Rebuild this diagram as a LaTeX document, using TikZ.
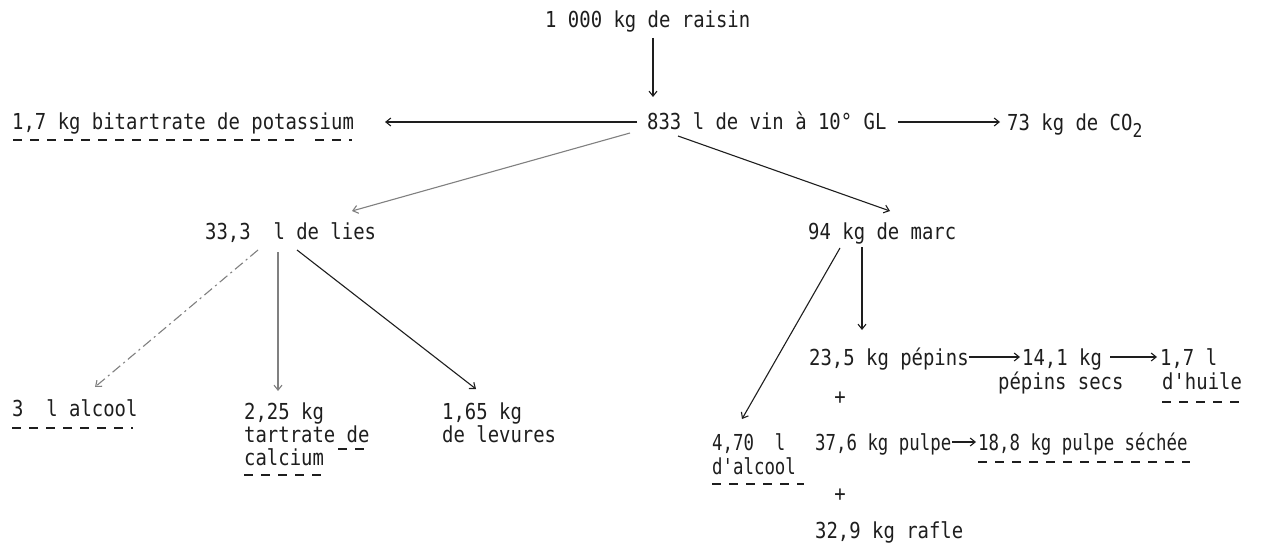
\documentclass[tikz,border=0pt]{standalone}
\usepackage{fontspec}
\setmonofont[FakeStretch=0.86]{DejaVu Sans Mono}
\usetikzlibrary{arrows.meta,calc}
\definecolor{ink}{HTML}{1E1E1E}
\definecolor{faint}{HTML}{808080}
\tikzset{
  lbl/.style={anchor=base west, inner sep=0pt, text=ink, font=\ttfamily\fontsize{22}{26}\selectfont},
  nlbl/.style={lbl, font=\ttfamily\fontsize{22}{26}\selectfont\addfontfeature{FakeStretch=0.79}},
  plus/.style={anchor=center, inner sep=0pt, text=ink, font=\ttfamily\fontsize{22}{26}\selectfont},
  arr/.style={draw=ink, line width=1.1pt, -{Straight Barb[length=5pt,width=8pt]}},
  garr/.style={arr, draw=faint},
  farr/.style={arr, draw=faint, dash pattern=on 10pt off 4pt on 2pt off 4pt},
  uline/.style={draw=ink, line width=1.4pt, dash pattern=on 9pt off 8pt},
}
\begin{document}
\begin{tikzpicture}[x=1pt,y=-1pt]
\useasboundingbox[fill=white] (0,0) rectangle (1272,543);

% texts
\node[lbl] (raisin) at (545,28) {1 000 kg de raisin};
\node[lbl] (vin) at (647,129) {833 l de vin à 10° GL};
\node[lbl] (bitar) at (12,129) {1,7 kg bitartrate de potassium};
\node[lbl] (co2) at (1007,130) {73 kg de CO\raisebox{-7pt}{\fontsize{19}{20}\selectfont 2}};
\node[lbl] (lies) at (205,239) {33,3\ \ l de lies};
\node[lbl] (marc) at (808,239) {94 kg de marc};
\node[lbl] (alc) at (12,416) {3\ \ l alcool};
\node[lbl] (tart) at (244,419) {2,25 kg};
\node[lbl] (tart2) at (244,442) {tartrate de};
\node[lbl] (tart3) at (244,465) {calcium};
\node[lbl] (lev) at (442,419) {1,65 kg};
\node[lbl] (lev2) at (442,442) {de levures};
\node[lbl] (pep) at (809,365) {23,5 kg pépins};
\node[lbl] (sec) at (1022,365) {14,1 kg};
\node[lbl] (sec2) at (998,389) {pépins secs};
\node[lbl] (huile) at (1160,365) {1,7 l};
\node[lbl] (huile2) at (1162,389) {d'huile};
\node[plus] (plus1) at (840,398) {+};
\node[nlbl] (al) at (712,450) {4,70\ \ l};
\node[nlbl] (al2) at (712,474) {d'alcool};
\node[nlbl] (pulpe) at (815,450) {37,6 kg pulpe};
\node[nlbl] (seche) at (978,450) {18,8 kg pulpe séchée};
\node[plus] (plus2) at (840,495) {+};
\node[lbl] (rafle) at (815,538) {32,9 kg rafle};

% connectors
\draw[arr] ($(raisin.base west)+(108,10)$) -- ($(vin.base west)+(6,-32)$);
\draw[arr] ($(vin.base west)+(-10,-7)$) -- ($(bitar.base west)+(373,-7)$);
\draw[arr] ($(vin.base west)+(251,-7)$) -- ($(co2.base west)+(-7,-8)$);
\draw[garr] ($(vin.base west)+(-17,4)$) -- ($(lies.base west)+(147,-28)$);
\draw[arr] ($(vin.base west)+(31,7)$) -- ($(marc.base west)+(82,-28)$);
\draw[farr] ($(lies.base west)+(53,11)$) -- ($(alc.base west)+(83,-29)$);
\draw[garr] ($(lies.base west)+(73,13)$) -- ($(tart.base west)+(34,-28)$);
\draw[arr] ($(lies.base west)+(92,11)$) -- ($(lev.base west)+(34,-30)$);
\draw[arr] ($(marc.base west)+(32,9)$) -- ($(al.base west)+(30,-31)$);
\draw[arr] ($(marc.base west)+(54,8)$) -- ($(pep.base west)+(53,-35)$);
\draw[arr] ($(pep.base west)+(160,-8)$) -- ($(sec.base west)+(-2,-8)$);
\draw[arr] ($(sec.base west)+(88,-8)$) -- ($(huile.base west)+(-3,-8)$);
\draw[arr] ($(pulpe.base west)+(137,-8)$) -- ($(seche.base west)+(-2,-8)$);

% dashed underlines
\draw[uline] ($(bitar.base west)+(1,11)$) -- ($(bitar.base west)+(283,11)$);
\draw[uline] ($(bitar.base west)+(303,11)$) -- ($(bitar.base west)+(340,11)$);
\draw[uline] ($(alc.base west)+(0,12)$) -- ($(alc.base east)+(-5,12)$);
\draw[uline] ($(tart2.base west)+(94,7)$) -- ($(tart2.base west)+(126,7)$);
\draw[uline] ($(tart3.base west)+(0,10)$) -- ($(tart3.base west)+(78,10)$);
\draw[uline] ($(huile2.base west)+(0,13)$) -- ($(huile2.base east)+(0,13)$);
\draw[uline] ($(al2.base west)+(0,10)$) -- ($(al2.base east)+(8,10)$);
\draw[uline] ($(seche.base west)+(0,12)$) -- ($(seche.base east)+(2,12)$);
\end{tikzpicture}
\end{document}
